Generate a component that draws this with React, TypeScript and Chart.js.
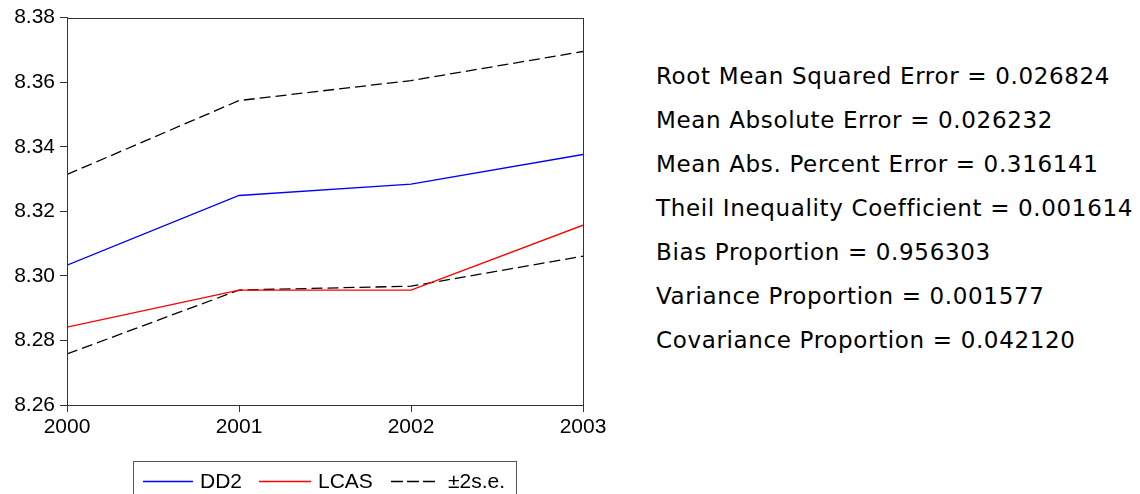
import React, { useEffect, useRef } from "react";
import { Chart, registerables } from "chart.js";

Chart.register(...registerables);

const years = [2000, 2001, 2002, 2003];
const dd2 = [8.3033, 8.3249, 8.3284, 8.3376];
const lcas = [8.2841, 8.2956, 8.2956, 8.3157];
const upper = [8.3314, 8.3543, 8.3605, 8.3695];
const lower = [8.2758, 8.2956, 8.2968, 8.3061];
const stats = [
  "Root Mean Squared Error = 0.026824",
  "Mean Absolute Error = 0.026232",
  "Mean Abs. Percent Error = 0.316141",
  "Theil Inequality Coefficient = 0.001614",
  "Bias Proportion = 0.956303",
  "Variance Proportion = 0.001577",
  "Covariance Proportion = 0.042120",
];
const legendItems = [
  { label: "DD2", color: "#0000ff", dash: false },
  { label: "LCAS", color: "#ff0000", dash: false },
  { label: "±2s.e.", color: "#000000", dash: true },
];

const pts = (arr: number[]) => years.map((x, i) => ({ x, y: arr[i] }));

const framePlugin = {
  id: "frame",
  afterDraw(chart: any) {
    const { ctx, chartArea: a } = chart;
    ctx.save();
    ctx.strokeStyle = "#333";
    ctx.lineWidth = 1;
    ctx.strokeRect(Math.round(a.left) + 0.5, Math.round(a.top) + 0.5, Math.round(a.right - a.left), Math.round(a.bottom - a.top));
    ctx.restore();
  },
};

export default function App() {
  const ref = useRef<HTMLCanvasElement>(null);
  useEffect(() => {
    const font = { family: "'Liberation Sans', Arial, sans-serif", size: 21 };
    const chart = new Chart(ref.current!, {
      type: "line",
      data: {
        datasets: [
          { label: "DD2", data: pts(dd2), borderColor: "#0000ff", borderWidth: 1.3, pointRadius: 0, fill: false },
          { label: "LCAS", data: pts(lcas), borderColor: "#ff0000", borderWidth: 1.3, pointRadius: 0, fill: false },
          { label: "±2s.e.", data: pts(upper), borderColor: "#000000", borderWidth: 1.3, borderDash: [11, 5], pointRadius: 0, fill: false },
          { label: "±2s.e. lower", data: pts(lower), borderColor: "#000000", borderWidth: 1.3, borderDash: [11, 5], pointRadius: 0, fill: false },
        ],
      },
      options: {
        animation: false,
        responsive: false,
        maintainAspectRatio: false,
        layout: { padding: { top: 17, right: 37, left: 0, bottom: 0 } },
        plugins: { legend: { display: false }, tooltip: { enabled: false } },
        scales: {
          x: {
            type: "linear",
            min: 2000,
            max: 2003,
            afterFit: (s: any) => { s.height = 89; },
            ticks: { stepSize: 1, color: "#000", font, padding: 3, callback: (v: any) => String(v), maxRotation: 0 },
            grid: { display: true, drawOnChartArea: false, drawTicks: true, tickLength: 7, color: "#333" },
            border: { display: true, color: "#333", width: 1 },
          },
          y: {
            min: 8.26,
            max: 8.38,
            afterFit: (s: any) => { s.width = 67; },
            ticks: { stepSize: 0.02, color: "#000", font, padding: 5, callback: (v: any) => Number(v).toFixed(2) },
            grid: { display: true, drawOnChartArea: false, drawTicks: true, tickLength: 7, color: "#333" },
            border: { display: true, color: "#333", width: 1 },
          },
        },
      },
      plugins: [framePlugin],
    });
    return () => chart.destroy();
  }, []);

  const lineX = [9, 125, 257];
  const lineW = [50, 52, 44];
  const textX = [66, 184, 314];

  return (
    <div style={{ position: "absolute", left: 0, top: 0, width: 1140, height: 494, background: "#fff", overflow: "hidden" }}>
      <canvas ref={ref} width={620} height={494} style={{ position: "absolute", left: 0, top: 0 }} />
      <div
        style={{
          position: "absolute",
          left: 133,
          top: 461,
          width: 384,
          height: 60,
          border: "1px solid #555",
          boxSizing: "border-box",
          fontFamily: "'Liberation Sans', Arial, sans-serif",
          fontSize: 21,
          color: "#000",
        }}
      >
        <svg width={384} height={40} style={{ position: "absolute", left: 0, top: 0 }}>
          {legendItems.map((it, i) => (
            <line
              key={it.label}
              x1={lineX[i]}
              x2={lineX[i] + lineW[i]}
              y1={19.5}
              y2={19.5}
              stroke={it.color}
              strokeWidth={1.3}
              strokeDasharray={it.dash ? "12 4" : undefined}
            />
          ))}
        </svg>
        {legendItems.map((it, i) => (
          <div key={it.label} style={{ position: "absolute", left: textX[i], top: 7, lineHeight: "24px", whiteSpace: "nowrap" }}>
            {it.label}
          </div>
        ))}
      </div>
      <div
        style={{
          position: "absolute",
          left: 656,
          top: 62,
          fontFamily: "'DejaVu Sans', Verdana, sans-serif",
          fontSize: 23,
          letterSpacing: "0.65px",
          color: "#000",
        }}
      >
        {stats.map((s) => (
          <div key={s} style={{ height: 44, lineHeight: "28px", whiteSpace: "nowrap" }}>{s}</div>
        ))}
      </div>
    </div>
  );
}
